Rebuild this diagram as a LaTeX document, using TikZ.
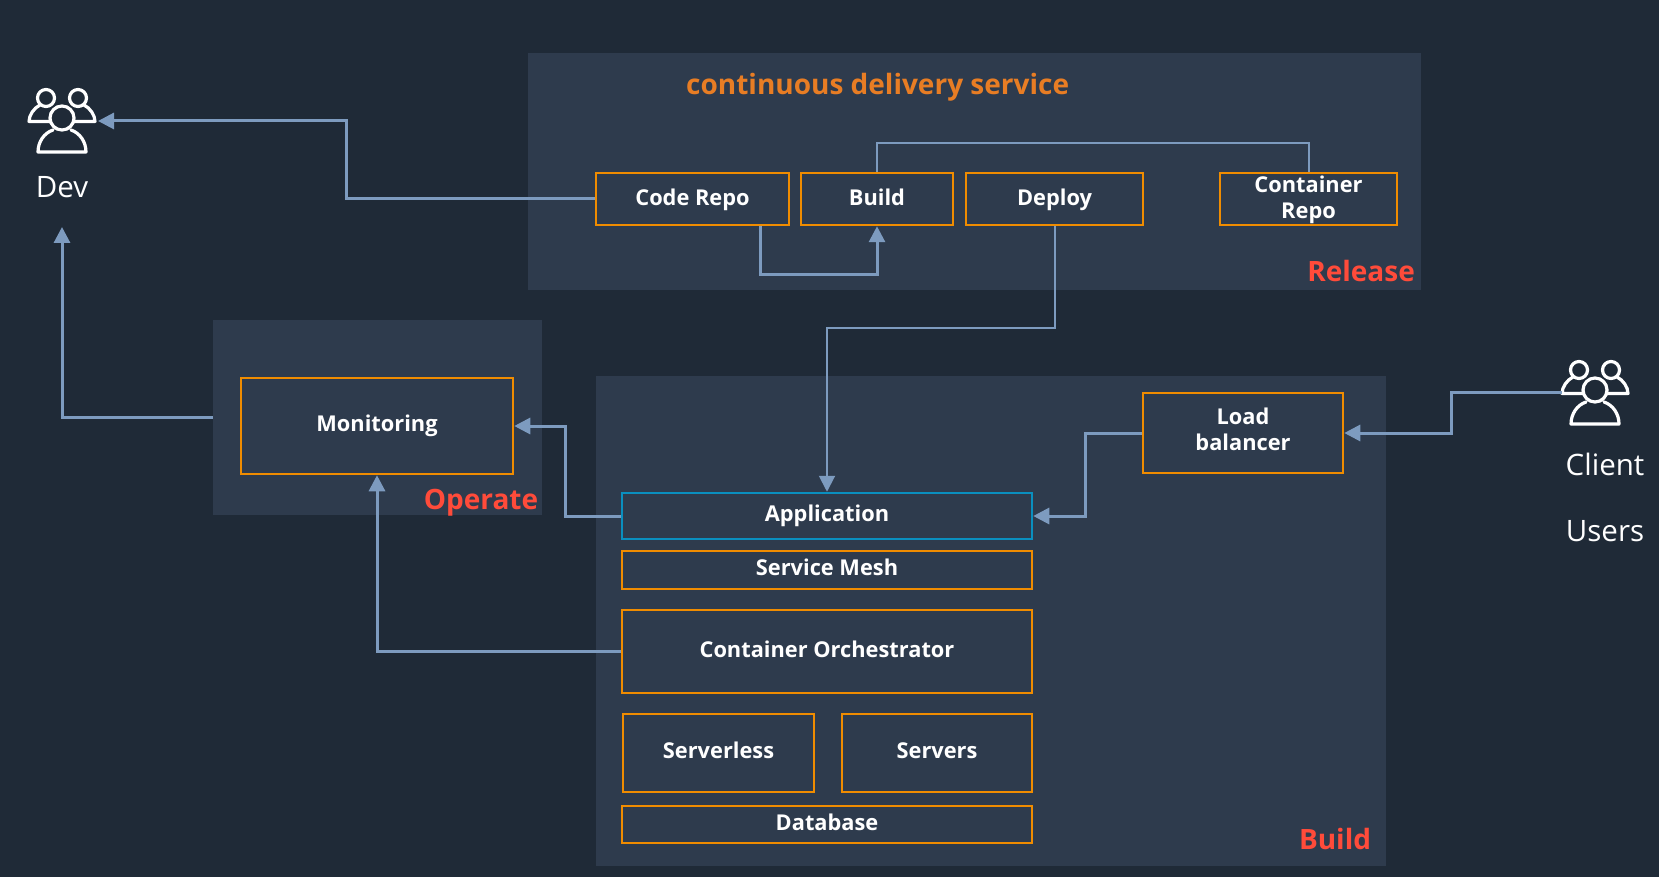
\documentclass[tikz,border=0pt]{standalone}
\usepackage{fontspec}
\setmainfont{Open Sans}
\usetikzlibrary{arrows.meta}
\definecolor{bgdark}{HTML}{1F2A37}
\definecolor{panelblue}{HTML}{2E3B4D}
\definecolor{boxorange}{HTML}{F08C00}
\definecolor{appblue}{HTML}{0A8FBF}
\definecolor{linkblue}{HTML}{7D9BBF}
\definecolor{titleorange}{HTML}{E87D24}
\definecolor{tagred}{HTML}{FF4B3A}
\tikzset{
  panel/.style={fill=panelblue, inner sep=0pt},
  stagebox/.style={draw=boxorange, line width=2.5pt, fill=panelblue, align=center, inner sep=0pt,
    font=\fontsize{21.8}{26}\selectfont\bfseries, text=white, text height=17pt, text depth=5.4pt},
  thinbox/.style={stagebox, line width=1.1pt},
  tag/.style={font=\fontsize{28}{32}\selectfont\bfseries, text=tagred, inner sep=0pt},
  peoplelabel/.style={font=\fontsize{29.5}{34}\selectfont, text=white, inner sep=0pt},
  link/.style={draw=linkblue, line width=3pt, -{Triangle[length=16pt,width=16pt]}},
  thinlink/.style={draw=linkblue, line width=2pt},
  usersicon/.pic={
    \draw[white, line width=3.2pt, line cap=round, line join=round]
      (0,0) circle (12)
      (-9,12) .. controls (-18,15) and (-24,24) .. (-24,34) -- (24,34) .. controls (24,24) and (18,15) .. (9,12)
      (-16,-20) circle (8.5) (16,-20) circle (8.5)
      (-13,3.5) -- (-33,3.5) .. controls (-33,-3) and (-28,-10) .. (-22,-13)
      (13,3.5) -- (33,3.5) .. controls (33,-3) and (28,-10) .. (22,-13);
  }
}
\begin{document}
\begin{tikzpicture}[x=1pt, y=-1pt]
    % Page background
    \node[fill=bgdark, minimum width=1659pt, minimum height=877pt, inner sep=0pt, outer sep=0pt, anchor=north west] (page) at (0,0) {};
    \useasboundingbox (0,0) rectangle (1659,877);
    % Release panel
    \node[panel, minimum width=893pt, minimum height=237pt] (releasepanel) at (974.5,171.5) {};
    \node[anchor=west, inner sep=0pt, text=titleorange, font=\fontsize{28}{32}\selectfont\bfseries] (title) at (686,87) {continuous delivery service};
    \node[stagebox, text height=19pt, minimum width=193pt, minimum height=52pt] (coderepo) at (692.5,199) {Code Repo};
    \node[stagebox, text height=19pt, minimum width=152pt, minimum height=52pt] (buildbox) at (877,199) {Build};
    \node[stagebox, text height=19pt, minimum width=177pt, minimum height=52pt] (deploybox) at (1054.5,199) {Deploy};
    \node[stagebox, text height=43.6pt, minimum width=177pt, minimum height=52pt] (containerrepo) at (1308.5,199) {Container\\Repo};
    \node[tag, anchor=east] (releasetag) at (1415,271) {Release};
    % Operate panel
    \node[panel, minimum width=329pt, minimum height=195pt] (operatepanel) at (377.5,417.5) {};
    \node[stagebox, minimum width=272pt, minimum height=96pt] (monitoring) at (377,426) {Monitoring};
    \node[tag] (operatetag) at (481,503) {Operate};
    % Build panel
    \node[panel, minimum width=790pt, minimum height=490pt] (buildpanel) at (991,621) {};
    \node[stagebox, text height=40pt, minimum width=200pt, minimum height=80pt] (balancer) at (1243,433) {Load\\balancer};
    \node[stagebox, draw=appblue, minimum width=410pt, minimum height=46pt] (appbox) at (827,516) {Application};
    \node[thinbox, minimum width=410pt, minimum height=38pt] (mesh) at (827,570) {Service Mesh};
    \node[stagebox, minimum width=410pt, minimum height=83pt] (orchestrator) at (827,651.5) {Container Orchestrator};
    \node[stagebox, minimum width=191pt, minimum height=78pt] (serverless) at (718.5,753) {Serverless};
    \node[stagebox, minimum width=190pt, minimum height=78pt] (servers) at (937,753) {Servers};
    \node[thinbox, minimum width=410pt, minimum height=37pt] (database) at (827,824.5) {Database};
    \node[tag] (buildtag) at (1335,839) {Build};
    % User icons
    \pic at (62,118) {usersicon};
    \pic at (1595,390) {usersicon};
    \coordinate (devport) at (98,121);
    \coordinate (devdrop) at (62,227);
    \coordinate (clientport) at (1562,392);
    \node[peoplelabel] (devlabel) at (62,187) {Dev};
    \node[peoplelabel] (clientlabel) at (1605,464) {Client};
    \node[peoplelabel] (userslabel) at (1605,531) {Users};
    % Connectors
    \draw[link] (coderepo.west) -- ++(-248,0) |- (devport);
    \draw[link] ([xshift=67.5pt]coderepo.south) -- ++(0,48) -| (buildbox.south);
    \draw[thinlink] (buildbox.north) -- ++(0,-29) -| (containerrepo.north);
    \draw[link, line width=2pt] (deploybox.south) -- ++(0,102) -| (appbox.north);
    \draw[link] (operatepanel.west) -| (devdrop);
    \draw[link] (appbox.west) -- ++(-55,0) |- (monitoring.east);
    \draw[link] (orchestrator.west) -| (monitoring.south);
    \draw[link] (balancer.west) -- ++(-56,0) |- (appbox.east);
    \draw[link] (clientport) -- ++(-111,0) |- (balancer.east);
\end{tikzpicture}
\end{document}
